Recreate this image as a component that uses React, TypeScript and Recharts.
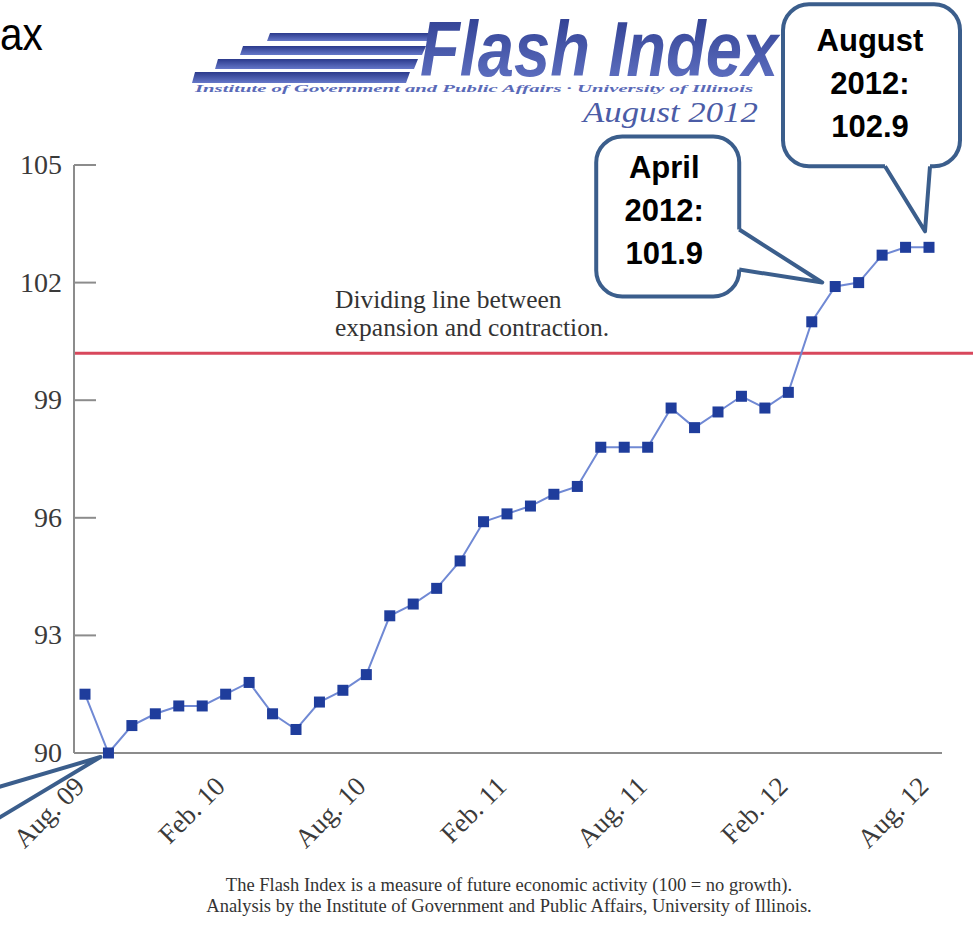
import React from "react";
import { LineChart, Line, XAxis, YAxis, ReferenceLine, ReferenceDot } from "recharts";

const MONTHS = [
  "Aug. 09", "Sep. 09", "Oct. 09", "Nov. 09", "Dec. 09",
  "Jan. 10", "Feb. 10", "Mar. 10", "Apr. 10", "May 10", "Jun. 10", "Jul. 10",
  "Aug. 10", "Sep. 10", "Oct. 10", "Nov. 10", "Dec. 10",
  "Jan. 11", "Feb. 11", "Mar. 11", "Apr. 11", "May 11", "Jun. 11", "Jul. 11",
  "Aug. 11", "Sep. 11", "Oct. 11", "Nov. 11", "Dec. 11",
  "Jan. 12", "Feb. 12", "Mar. 12", "Apr. 12", "May 12", "Jun. 12", "Jul. 12",
  "Aug. 12",
];

const FLASH_INDEX = [
  91.5, 90.0, 90.7, 91.0, 91.2, 91.2, 91.5, 91.8, 91.0, 90.6, 91.3, 91.6,
  92.0, 93.5, 93.8, 94.2, 94.9, 95.9, 96.1, 96.3, 96.6, 96.8, 97.8, 97.8,
  97.8, 98.8, 98.3, 98.7, 99.1, 98.8, 99.2, 101.0, 101.9, 102.0, 102.7, 102.9,
  102.9,
];

const Y_TICKS = [90, 93, 96, 99, 102, 105];
const DIVIDING_LINE = 100.2;
const DIVIDER_TEXT = ["Dividing line between", "expansion and contraction."];

const CALLOUT_MONTHS = ["Aug. 12", "Apr. 12", "Sep. 09"];
const CALLOUT_VALUES = [102.9, 101.9, 90.0];
const CALLOUT_TEXT = [["August", "2012:", "102.9"], ["April", "2012:", "101.9"], []];

const FOOTER = [
  "The Flash Index is a measure of future economic activity (100 = no growth).",
  "Analysis by the Institute of Government and Public Affairs, University of Illinois.",
];

const data = MONTHS.map((month, i) => ({ month, value: FLASH_INDEX[i] }));

const SERIF = "'Liberation Serif', 'DejaVu Serif', serif";
const SANS = "'Liberation Sans', Arial, sans-serif";
const AXIS = "#8c8c8c";
const BUBBLE = "#3b5e8c";

function YTick({ x, y, payload }: any) {
  return (
    <g>
      <text x={x} y={y} dy={9} textAnchor="end" fontFamily={SERIF} fontSize={28} fill="#3a3a3a">
        {payload.value}
      </text>
      <line x1={x + 12} x2={x + 34} y1={y} y2={y} stroke={AXIS} strokeWidth={2} />
    </g>
  );
}

function XTick({ x, y, payload }: any) {
  return (
    <g transform={`translate(${x + 1},${y + 35})`}>
      <text textAnchor="end" transform="rotate(-45)" fontFamily={SERIF} fontSize={27} fill="#3a3a3a">
        {payload.value}
      </text>
    </g>
  );
}

function SquareDot({ cx, cy, index }: any) {
  return <rect key={index} x={cx - 5.5} y={cy - 5.5} width={11} height={11} fill="#1f3d9c" />;
}

// box / tail offsets are relative to the data point
const BUBBLE_LAYOUT = [
  { box: [-146, -243, 31, -81], b1: [-44, -81], b2: [1, -81], tip: [-4, -16], inward: [0, -4], tx: -59, ty: -196 },
  { box: [-239, -150, -96, 10], b1: [-96, -57], b2: [-96, -17], tip: [-13, -4], inward: [-4, 0], tx: -171, ty: -109 },
  { box: [-330, -10, -123, 120], b1: [-123, 38], b2: [-123, 73], tip: [-8, 4], inward: [-4, 0], tx: -226, ty: 40 },
];

function Callout({ cx, cy, idx }: any) {
  const L = BUBBLE_LAYOUT[idx];
  const [l, t, r, b] = L.box;
  const p = (v: number[]) => `${cx + v[0]},${cy + v[1]}`;
  const inner1 = [L.b1[0] + L.inward[0], L.b1[1] + L.inward[1]];
  const inner2 = [L.b2[0] + L.inward[0], L.b2[1] + L.inward[1]];
  return (
    <g>
      <rect x={cx + l} y={cy + t} width={r - l} height={b - t} rx={26} fill="#fff" stroke={BUBBLE} strokeWidth={4} />
      <polygon points={`${p(inner1)} ${p(L.b1)} ${p(L.tip)} ${p(L.b2)} ${p(inner2)}`} fill="#fff" />
      <polyline points={`${p(L.b1)} ${p(L.tip)} ${p(L.b2)}`} fill="none" stroke={BUBBLE} strokeWidth={4} strokeLinejoin="round" />
      {CALLOUT_TEXT[idx].map((s, i) => (
        <text key={s} x={cx + L.tx} y={cy + L.ty + i * 43} textAnchor="middle" fontFamily={SANS} fontWeight="bold" fontSize={31} fill="#000">
          {s}
        </text>
      ))}
    </g>
  );
}

function DividerLine({ x1, y1, x2, y2 }: any) {
  return (
    <g>
      <line x1={x1} y1={y1} x2={x2 + 31} y2={y2} stroke="#d8475c" strokeWidth={3} />
      {DIVIDER_TEXT.map((s, i) => (
        <text key={s} x={x1 + 261} y={y1 - 45 + i * 28} fontFamily={SERIF} fontSize={25.5} fill="#333">
          {s}
        </text>
      ))}
    </g>
  );
}

function Header() {
  const bars = [
    [270, 33, 428, 8],
    [243, 46, 422, 9],
    [218, 59, 414, 10],
    [195, 72, 406, 11],
  ];
  return (
    <svg width={973} height={931} style={{ position: "absolute", left: 0, top: 0 }}>
      <defs>
        <linearGradient id="logo" x1="0" y1="0" x2="0" y2="1">
          <stop offset="0" stopColor="#2b3a8c" />
          <stop offset="1" stopColor="#6577c8" />
        </linearGradient>
      </defs>
      <text transform="translate(0,50) scale(0.88,1)" fontFamily={SANS} fontSize={46} fill="#000">ax</text>
      {bars.map(([x0, y0, x1, h], i) => (
        <polygon key={i} points={`${x0},${y0} ${x1 + 4},${y0} ${x1},${y0 + h} ${x0 - 3},${y0 + h}`} fill="url(#logo)" />
      ))}
      <text transform="translate(420,76) scale(0.835,1)" fontFamily={SANS} fontStyle="italic" fontWeight="bold" fontSize={78}
        fill="url(#logo)">
        Flash Index
      </text>
      <text transform="translate(195,92) scale(0.9,1)" fontFamily={SERIF} fontStyle="italic" fontWeight="bold" fontSize={10}
        fill="#5a6ab8" textLength={620} lengthAdjust="spacingAndGlyphs">
        Institute of Government and Public Affairs · University of Illinois
      </text>
      <text transform="translate(583,122) scale(1.16,1)" fontFamily={SERIF} fontStyle="italic" fontSize={30} fill="#4b5ca6">
        August 2012
      </text>
      {FOOTER.map((s, i) => (
        <text key={s} x={509} y={891 + i * 21} textAnchor="middle" fontFamily={SERIF} fontSize={18.5} fill="#333">
          {s}
        </text>
      ))}
    </svg>
  );
}

export default function App() {
  return (
    <div style={{ position: "absolute", left: 0, top: 0, width: 973, height: 931, background: "#fff", overflow: "hidden" }}>
      <Header />
      <div style={{ position: "absolute", left: 0, top: 0 }}>
        <LineChart width={973} height={931} data={data} margin={{ top: 165, right: 31, bottom: 0, left: 0 }}>
          <XAxis
            dataKey="month"
            interval={5}
            tickLine={false}
            tickSize={0}
            tickMargin={0}
            height={178}
            padding={{ left: 11, right: 13 }}
            axisLine={{ stroke: AXIS, strokeWidth: 2 }}
            tick={(props: any) => <XTick {...props} />}
          />
          <YAxis
            domain={[90, 105]}
            ticks={Y_TICKS}
            interval={0}
            width={74}
            tickLine={false}
            tickSize={0}
            tickMargin={12}
            axisLine={{ stroke: AXIS, strokeWidth: 2 }}
            tick={(props: any) => <YTick {...props} />}
          />
          <ReferenceLine y={DIVIDING_LINE} shape={(props: any) => <DividerLine {...props} />} />
          <Line
            type="linear"
            dataKey="value"
            stroke="#7089d4"
            strokeWidth={2}
            dot={(props: any) => <SquareDot key={props.index} {...props} />}
            activeDot={false}
            isAnimationActive={false}
          />
          {CALLOUT_MONTHS.map((m, i) => (
            <ReferenceDot
              key={m}
              x={m}
              y={CALLOUT_VALUES[i]}
              r={0}
              ifOverflow="visible"
              shape={(props: any) => <Callout cx={props.cx} cy={props.cy} idx={i} />}
            />
          ))}
        </LineChart>
      </div>
    </div>
  );
}
